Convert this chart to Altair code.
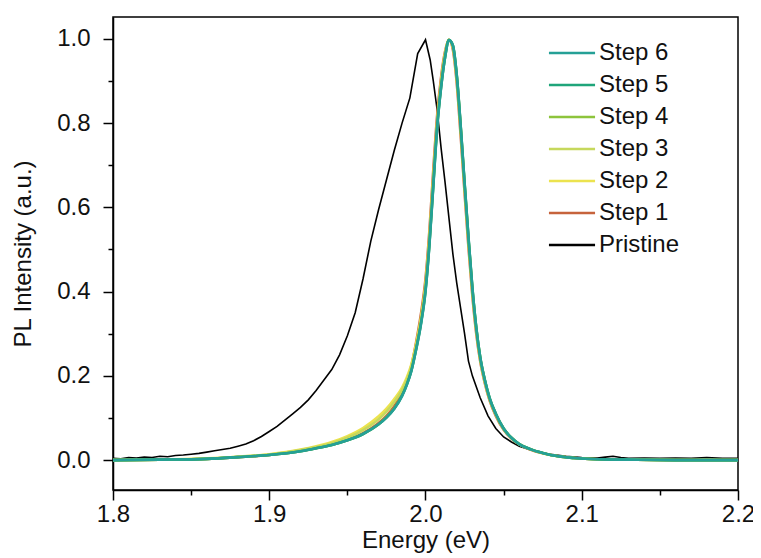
import altair as alt
import pandas as pd

series_order = ["Step 6", "Step 5", "Step 4", "Step 3", "Step 2", "Step 1", "Pristine"]
series_colors = ["#25a096", "#1fa57a", "#8dc43c", "#c6d85c", "#ece34e", "#c6633c", "#000000"]
draw_order = ["Pristine", "Step 1", "Step 2", "Step 3", "Step 4", "Step 5", "Step 6"]

x_ticks = [1.8, 1.85, 1.9, 1.95, 2.0, 2.05, 2.1, 2.15, 2.2]
y_ticks = [0.0, 0.1, 0.2, 0.3, 0.4, 0.5, 0.6, 0.7, 0.8, 0.9, 1.0]

pristine_energy = [1.80, 1.805, 1.81, 1.815, 1.82, 1.825, 1.83, 1.835, 1.84, 1.845, 1.85, 1.855,
                   1.86, 1.865, 1.87, 1.875, 1.88, 1.885, 1.89, 1.895, 1.90, 1.905, 1.91, 1.915,
                   1.92, 1.925, 1.93, 1.935, 1.94, 1.945, 1.95, 1.955, 1.96, 1.965, 1.97, 1.975,
                   1.98, 1.985, 1.99, 1.995, 2.0, 2.003, 2.005, 2.0075, 2.010, 2.0125, 2.015,
                   2.0175, 2.02, 2.0225, 2.025, 2.0275, 2.03, 2.035, 2.04, 2.045, 2.05, 2.055,
                   2.06, 2.065, 2.07, 2.075, 2.08, 2.09, 2.10, 2.11, 2.115, 2.12, 2.125, 2.13,
                   2.14, 2.15, 2.16, 2.17, 2.18, 2.19, 2.2]
pristine_intensity = [0.004, 0.003, 0.006, 0.005, 0.007, 0.006, 0.009, 0.008, 0.011, 0.012, 0.014, 0.016,
                      0.019, 0.022, 0.025, 0.028, 0.033, 0.038, 0.046, 0.056, 0.068, 0.080, 0.095, 0.110,
                      0.125, 0.143, 0.165, 0.190, 0.215, 0.250, 0.295, 0.350, 0.430, 0.520, 0.595, 0.665,
                      0.735, 0.800, 0.860, 0.965, 0.998, 0.950, 0.900, 0.830, 0.740, 0.660, 0.575,
                      0.490, 0.420, 0.360, 0.300, 0.235, 0.200, 0.148, 0.105, 0.075, 0.055, 0.043,
                      0.033, 0.027, 0.021, 0.017, 0.014, 0.009, 0.006, 0.005, 0.007, 0.009, 0.006, 0.004,
                      0.005, 0.004, 0.005, 0.004, 0.006, 0.004, 0.004]

step_energy = [1.80, 1.83, 1.86, 1.88, 1.90, 1.92, 1.93, 1.94, 1.95, 1.96, 1.97, 1.975, 1.98,
               1.985, 1.988, 1.991, 1.994, 1.997, 2.000, 2.0025, 2.005, 2.0075, 2.010, 2.0125,
               2.015, 2.0175, 2.020, 2.0225, 2.025, 2.0275, 2.030, 2.0325, 2.035, 2.038, 2.041,
               2.045, 2.050, 2.055, 2.060, 2.067, 2.075, 2.085, 2.095, 2.11, 2.13, 2.16, 2.20]

step1 = [0.000, 0.001, 0.003, 0.007, 0.012, 0.022, 0.029, 0.037, 0.048, 0.064, 0.088, 0.105, 0.128,
         0.160, 0.188, 0.225, 0.280, 0.345, 0.430, 0.545, 0.690, 0.820, 0.910, 0.970,
         0.998, 0.975, 0.895, 0.770, 0.635, 0.505, 0.390, 0.300, 0.235, 0.182, 0.142,
         0.105, 0.072, 0.051, 0.037, 0.025, 0.016, 0.009, 0.005, 0.002, 0.001, 0.000, 0.000]
step2 = [0.000, 0.001, 0.004, 0.008, 0.014, 0.025, 0.033, 0.043, 0.057, 0.076, 0.104, 0.122, 0.145,
         0.172, 0.196, 0.228, 0.276, 0.336, 0.418, 0.530, 0.672, 0.805, 0.900, 0.965,
         0.998, 0.980, 0.905, 0.785, 0.648, 0.518, 0.400, 0.308, 0.240, 0.186, 0.145,
         0.108, 0.074, 0.052, 0.038, 0.026, 0.016, 0.009, 0.005, 0.002, 0.001, 0.000, 0.000]
step3 = [0.000, 0.001, 0.003, 0.008, 0.013, 0.024, 0.031, 0.040, 0.053, 0.071, 0.097, 0.115, 0.138,
         0.166, 0.190, 0.222, 0.270, 0.330, 0.412, 0.522, 0.664, 0.800, 0.895, 0.962,
         0.998, 0.982, 0.910, 0.790, 0.653, 0.523, 0.404, 0.311, 0.242, 0.188, 0.146,
         0.109, 0.074, 0.053, 0.038, 0.026, 0.017, 0.009, 0.005, 0.002, 0.001, 0.000, 0.000]
step4 = [0.000, 0.001, 0.003, 0.007, 0.012, 0.021, 0.028, 0.036, 0.047, 0.062, 0.085, 0.102, 0.123,
         0.154, 0.180, 0.214, 0.265, 0.324, 0.405, 0.515, 0.656, 0.795, 0.888, 0.957,
         0.997, 0.984, 0.912, 0.792, 0.656, 0.526, 0.407, 0.313, 0.244, 0.189, 0.147,
         0.110, 0.075, 0.053, 0.038, 0.026, 0.017, 0.009, 0.005, 0.002, 0.001, 0.000, 0.000]
step5 = [0.000, 0.001, 0.003, 0.007, 0.012, 0.021, 0.028, 0.036, 0.047, 0.062, 0.085, 0.101, 0.122,
         0.153, 0.179, 0.213, 0.263, 0.322, 0.402, 0.512, 0.653, 0.792, 0.886, 0.956,
         0.997, 0.985, 0.914, 0.794, 0.658, 0.528, 0.409, 0.314, 0.245, 0.190, 0.148,
         0.110, 0.075, 0.053, 0.038, 0.026, 0.017, 0.009, 0.005, 0.002, 0.001, 0.000, 0.000]
step6 = [0.000, 0.001, 0.003, 0.007, 0.012, 0.021, 0.028, 0.036, 0.047, 0.062, 0.085, 0.101, 0.122,
         0.152, 0.178, 0.212, 0.262, 0.320, 0.400, 0.510, 0.650, 0.790, 0.885, 0.955,
         0.997, 0.985, 0.915, 0.795, 0.660, 0.530, 0.410, 0.315, 0.245, 0.190, 0.148,
         0.110, 0.075, 0.053, 0.038, 0.026, 0.017, 0.009, 0.005, 0.002, 0.001, 0.000, 0.000]

rows = []
for e, v in zip(pristine_energy, pristine_intensity):
    rows.append({"series": "Pristine", "energy": e, "intensity": v})
for name, vals in [("Step 1", step1), ("Step 2", step2), ("Step 3", step3),
                   ("Step 4", step4), ("Step 5", step5), ("Step 6", step6)]:
    for e, v in zip(step_energy, vals):
        rows.append({"series": name, "energy": e, "intensity": v})
df = pd.DataFrame(rows)

FONT = "Liberation Sans"
FS = 24

x_major = "abs(datum.value*10 - round(datum.value*10)) < 0.001"
y_major = "abs(datum.value*5 - round(datum.value*5)) < 0.001"

x_axis = alt.Axis(
    values=x_ticks, title="Energy (eV)", grid=False,
    labelExpr=f"{x_major} ? format(datum.value, '.1f') : ''",
    labelOverlap=False, labelFlush=False,
    tickSize={"condition": {"test": x_major, "value": 10}, "value": 5},
    tickWidth=1.5, tickColor="#000", domainColor="#000", domainWidth=1.5,
    labelFont=FONT, labelFontSize=FS, labelColor="#111", labelPadding=2,
    titleFont=FONT, titleFontSize=FS, titleFontWeight="normal", titleColor="#111", titlePadding=2,
)
y_axis = alt.Axis(
    values=y_ticks, title="PL Intensity (a.u.)", grid=False,
    labelExpr=f"{y_major} ? format(datum.value, '.1f') : ''",
    labelOverlap=False, labelFlush=False,
    tickSize={"condition": {"test": y_major, "value": 10}, "value": 5},
    tickWidth=1.5, tickColor="#000", domainColor="#000", domainWidth=1.5,
    labelFont=FONT, labelFontSize=FS, labelColor="#111", labelPadding=13,
    titleFont=FONT, titleFontSize=FS, titleFontWeight="normal", titleColor="#111", titlePadding=21,
)

color = alt.Color(
    "series:N",
    scale=alt.Scale(domain=series_order, range=series_colors),
    legend=alt.Legend(
        orient="none", legendX=447, legendY=24, title=None, padding=0,
        symbolType="M-5,0H5", symbolSize=85, symbolStrokeWidth=2.5,
        labelFont=FONT, labelFontSize=FS, labelColor="#111", labelOffset=15,
        rowPadding=8,
    ),
)

base = alt.Chart(df).encode(
    x=alt.X("energy:Q", scale=alt.Scale(domain=[1.8, 2.2], nice=False, zero=False), axis=x_axis),
    y=alt.Y("intensity:Q", scale=alt.Scale(domain=[-0.071, 1.052], nice=False, zero=False), axis=y_axis),
    color=color,
)

layers = []
for s in draw_order:
    if s == "Pristine":
        m = base.mark_line(strokeWidth=1.6, interpolate="linear")
    else:
        m = base.mark_line(strokeWidth=2.6, interpolate="monotone")
    layers.append(m.transform_filter(alt.datum.series == s))

chart = alt.layer(*layers).properties(
    width=625, height=473,
    autosize=alt.AutoSizeParams(type="none"),
    padding={"left": 105, "top": 9, "right": 15, "bottom": 66},
).configure_view(stroke="#000", strokeWidth=1.5)

chart.save("out.html", embed_options={"renderer": "svg", "actions": False})
